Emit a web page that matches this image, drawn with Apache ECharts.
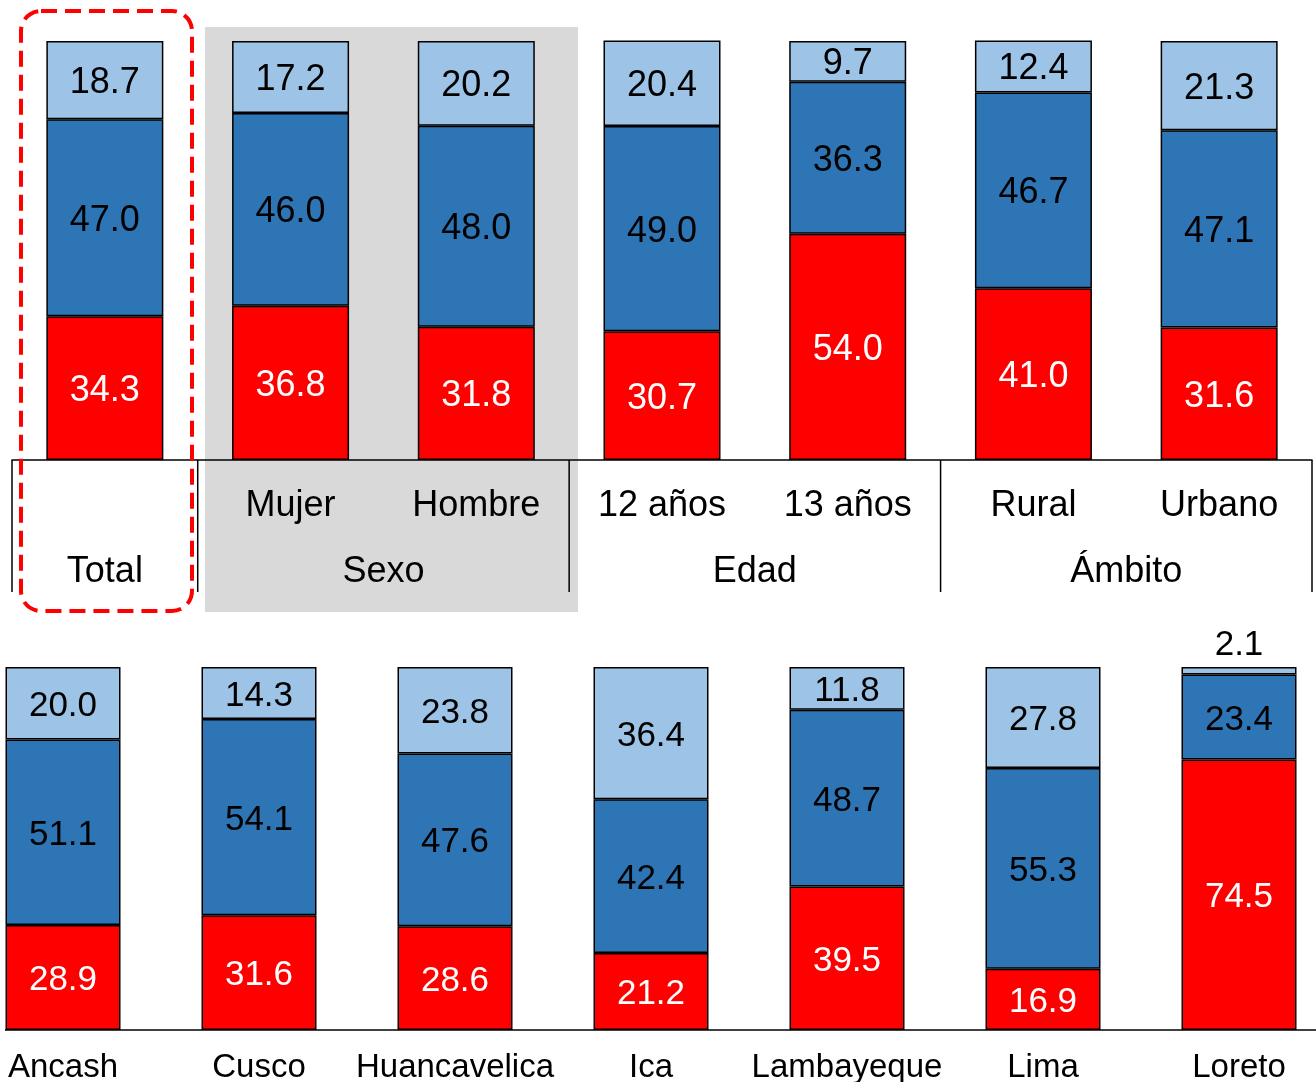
<!DOCTYPE html>
<html>
<head>
<meta charset="utf-8">
<script src="https://cdn.jsdelivr.net/npm/echarts@6/dist/echarts.min.js"></script>
<style>
html,body{margin:0;padding:0;background:#fff;overflow:hidden;}
#wrap{position:relative;width:1316px;height:1082px;overflow:hidden;}
/* the lower row is cut at the left in the original, so the canvas starts a bit off-screen */
#chart{position:absolute;left:-35px;top:0;width:1372px;height:1082px;}
</style>
</head>
<body>
<div id="wrap"><div id="chart"></div></div>
<script>
// datos - fila superior
var catTop = ['', 'Mujer', 'Hombre', '12 años', '13 años', 'Rural', 'Urbano'];
var rojoTop = [34.3, 36.8, 31.8, 30.7, 54.0, 41.0, 31.6];
var azulTop = [47.0, 46.0, 48.0, 49.0, 36.3, 46.7, 47.1];
var celesteTop = [18.7, 17.2, 20.2, 20.4, 9.7, 12.4, 21.3];
var grupos = ['Total', 'Sexo', 'Edad', 'Ámbito'];
var grupoInicio = [0, 1, 3, 5];
var grupoFin = [1, 3, 5, 7];

// datos - fila inferior (regiones)
var catBot = ['Ancash', 'Cusco', 'Huancavelica', 'Ica', 'Lambayeque', 'Lima', 'Loreto'];
var rojoBot = [28.9, 31.6, 28.6, 21.2, 39.5, 16.9, 74.5];
var azulBot = [51.1, 54.1, 47.6, 42.4, 48.7, 55.3, 23.4];
var celesteBot = [20.0, 14.3, 23.8, 36.4, 11.8, 27.8, 2.1];

var ROJO = '#FF0000', AZUL = '#2E75B6', CELESTE = '#9DC3E6';
var FONT = '"Liberation Sans", Arial, sans-serif';
var OFF = 35; // desplazamiento del lienzo

var gTop = {left: 12 + OFF, top: 41, width: 1300, height: 419};
var gBot = {left: 0, top: 667, width: 1372, height: 363};
var bandTop = gTop.width / catTop.length;

var myChart = echarts.init(document.getElementById('chart'));

function serie(name, data, color, txtColor, xi, bw, fs) {
    return {
        name: name,
        type: 'bar',
        stack: 's' + xi,
        xAxisIndex: xi,
        yAxisIndex: xi,
        barWidth: bw,
        data: data.map(function (v) {
            var d = {value: v};
            if (v < 5) {
                d.label = {position: 'top', color: '#000', distance: 4, offset: [0, 0]};
            }
            return d;
        }),
        itemStyle: {color: color, borderColor: '#000', borderWidth: 1.5},
        label: {
            show: true,
            position: 'inside',
            offset: [0, 3],
            color: txtColor,
            fontFamily: FONT,
            fontSize: fs,
            formatter: function (p) { return p.value.toFixed(1); }
        }
    };
}

// decoracion: fondo gris, separadores, grupos y recuadro
var graphics = [];
graphics.push({
    type: 'rect', z: 0,
    shape: {x: 205 + OFF, y: 27, width: 373, height: 585},
    style: {fill: '#D9D9D9'}
});
[0, 1, 3, 5, 7].forEach(function (b) {
    var x = gTop.left + b * bandTop;
    graphics.push({
        type: 'line', z: 10,
        shape: {x1: x, y1: 460, x2: x, y2: 592},
        style: {stroke: '#000', lineWidth: 1.5}
    });
});
grupos.forEach(function (g, i) {
    var cx = gTop.left + (grupoInicio[i] + grupoFin[i]) / 2 * bandTop;
    graphics.push({
        type: 'text', z: 10,
        x: cx, y: 572,
        style: {text: g, fill: '#000', font: '36px ' + FONT, textAlign: 'center', textVerticalAlign: 'middle'}
    });
});
graphics.push({
    type: 'rect', z: 20,
    shape: {x: 21 + OFF, y: 11, width: 171, height: 600, r: 20},
    style: {fill: 'none', stroke: '#FF0000', lineWidth: 4, lineDash: [16, 8]}
});
// la linea base inferior empieza un poco a la derecha del borde
graphics.push({
    type: 'rect', z: 5,
    shape: {x: 0, y: 1022, width: OFF + 5, height: 20},
    style: {fill: '#fff'}
});

var option = {
    animation: false,
    backgroundColor: '#fff',
    grid: [
        {left: gTop.left, top: gTop.top, width: gTop.width, height: gTop.height, outerBoundsMode: 'none', containLabel: false},
        {left: gBot.left, top: gBot.top, width: gBot.width, height: gBot.height, outerBoundsMode: 'none', containLabel: false}
    ],
    xAxis: [
        {
            type: 'category', gridIndex: 0, data: catTop,
            axisLine: {lineStyle: {color: '#000', width: 1.5}},
            axisTick: {show: false},
            axisLabel: {color: '#000', fontFamily: FONT, fontSize: 36, margin: 28, interval: 0}
        },
        {
            type: 'category', gridIndex: 1, data: catBot,
            axisLine: {lineStyle: {color: '#000', width: 1.5}},
            axisTick: {show: false},
            axisLabel: {color: '#000', fontFamily: FONT, fontSize: 33, margin: 21, interval: 0}
        }
    ],
    yAxis: [
        {type: 'value', gridIndex: 0, min: 0, max: 100, show: false},
        {type: 'value', gridIndex: 1, min: 0, max: 100, show: false}
    ],
    series: [
        serie('Rojo', rojoTop, ROJO, '#fff', 0, '63%', 36),
        serie('Azul', azulTop, AZUL, '#000', 0, '63%', 36),
        serie('Celeste', celesteTop, CELESTE, '#000', 0, '63%', 36),
        serie('Rojo', rojoBot, ROJO, '#fff', 1, 115, 35),
        serie('Azul', azulBot, AZUL, '#000', 1, 115, 35),
        serie('Celeste', celesteBot, CELESTE, '#000', 1, 115, 35)
    ],
    graphic: graphics
};
myChart.setOption(option);
</script>
</body>
</html>
